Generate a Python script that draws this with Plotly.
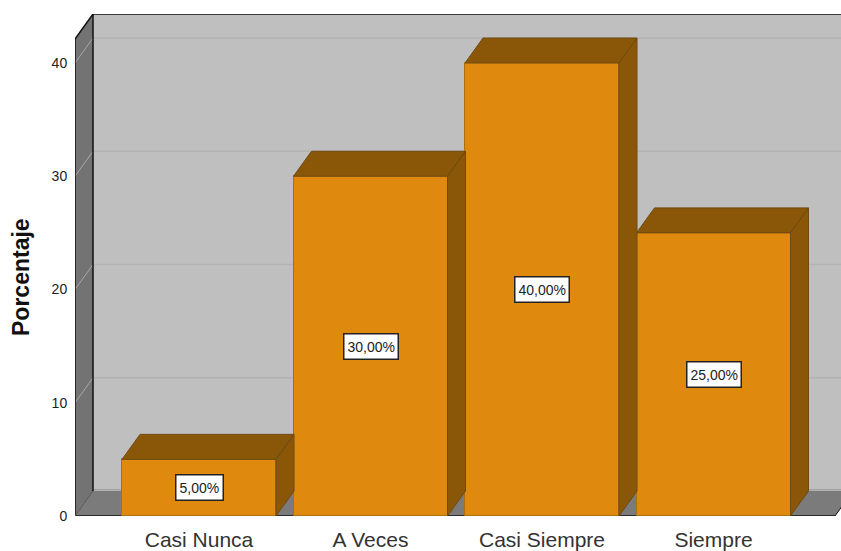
import plotly.graph_objects as go

categories = ["Casi Nunca", "A Veces", "Casi Siempre", "Siempre"]
values = [5, 30, 40, 25]
value_labels = ["5,00%", "30,00%", "40,00%", "25,00%"]
y_ticks = [0, 10, 20, 30, 40]

FRONT = "#E0890F"
DARK = "#8A5708"
EDGE = "#6E4A12"
WALL = "#BFBFBF"
SIDE = "#737373"
FLOOR = "#7B7B7B"
TEXT = "#222222"
SANS = "Liberation Sans, Arial, sans-serif"

W, H = 841, 551
L, R, T, B = 75, 0, 14, 35
PX_X, X0 = 171.5, 199
PX_Y = 11.325
Y0 = 516
DX = 18 / PX_X
DY = 25 / PX_Y
BAR_W = 154 / PX_X

x_rng = [(L - X0) / PX_X, (W - R - X0) / PX_X]
y_rng = [0, (Y0 - T) / PX_Y]
wl = x_rng[0]
wr = (835 - X0) / PX_X
ytop = y_rng[1] - DY


def poly(pts, fill, line=None, width=0):
    path = "M " + " L ".join(f"{x},{y}" for x, y in pts) + " Z"
    return dict(type="path", path=path, xref="x", yref="y", layer="below",
                fillcolor=fill, line=dict(color=line or fill, width=width))


def seg(x1, y1, x2, y2, color, width):
    return dict(type="line", x0=x1, y0=y1, x1=x2, y1=y2, xref="x", yref="y",
                layer="below", line=dict(color=color, width=width))


shapes = [
    poly([(wl + DX, DY), (x_rng[1] + 1, DY), (x_rng[1] + 1, ytop + DY), (wl + DX, ytop + DY)], WALL),
    poly([(wl, 0), (wl + DX, DY), (wl + DX, ytop + DY), (wl, ytop)], SIDE),
    poly([(wl, 0), (wr, 0), (wr + DX, DY), (x_rng[1] + 1, DY), (x_rng[1] + 1, 0), (wr, 0)], "white"),
    poly([(wl, 0), (wr, 0), (wr + DX, DY), (wl + DX, DY)], FLOOR),
    seg(wl + DX, DY + 0.1, x_rng[1] + 1, DY + 0.1, "#A3A3A3", 1.5),
]
for t in y_ticks[1:]:
    shapes.append(seg(wl, t, wl + DX, t + DY, "#A8A8A8", 1))
    shapes.append(seg(wl + DX, t + DY, x_rng[1] + 1, t + DY, "#B3B3B3", 1.5))
shapes += [
    seg(wl, 0, wl, ytop, "#111111", 1.5),
    seg(wl, ytop, wl + DX, ytop + DY, "#111111", 1.5),
    seg(wl + DX, ytop + DY, x_rng[1] + 1, ytop + DY, "#111111", 1.5),
    seg(wl + DX, DY, wl + DX, ytop + DY, "#111111", 1.5),
    seg(wl, 0, wr, 0, "#111111", 1.5),
    seg(wl, 0, wl + DX, DY, "#555555", 1),
    seg(wr, 0, wr + DX, DY, "#111111", 1),
]

fig = go.Figure()
xs = list(range(len(categories)))
fig.add_trace(go.Bar(x=xs, y=values, width=BAR_W, marker=dict(color=FRONT, line=dict(color="#A9700F", width=1)),
                     hoverinfo="skip", showlegend=False))
for i, v in zip(xs, values):
    a, b = i - BAR_W / 2, i + BAR_W / 2
    fig.add_trace(go.Scatter(x=[a, b, b + DX, a + DX, a], y=[v, v, v + DY, v + DY, v], mode="lines",
                             fill="toself", fillcolor=DARK, line=dict(color=EDGE, width=1),
                             hoverinfo="skip", showlegend=False))
    fig.add_trace(go.Scatter(x=[b, b + DX, b + DX, b, b], y=[0, DY, v + DY, v, 0], mode="lines",
                             fill="toself", fillcolor=DARK, line=dict(color=EDGE, width=1),
                             hoverinfo="skip", showlegend=False))

annotations = [
    dict(x=i, y=v / 2, xref="x", yref="y", text=lab, showarrow=False,
         font=dict(family=SANS, size=14, color=TEXT), bgcolor="#FFFFFF",
         bordercolor="#222222", borderwidth=1.5, borderpad=3, height=18)
    for i, v, lab in zip(xs, values, value_labels)
]
plot_w, plot_h = W - L - R, H - T - B
annotations.append(dict(x=(21 - L) / plot_w, y=(Y0 - 277) / plot_h, xref="paper", yref="paper",
                        yanchor="middle", xanchor="center", text="<b>Porcentaje</b>", textangle=-90,
                        showarrow=False, font=dict(family=SANS, size=23, color="#111111")))

fig.update_layout(
    width=W, height=H, autosize=False,
    margin=dict(l=L, r=R, t=T, b=B, pad=0),
    paper_bgcolor="white", plot_bgcolor="white",
    shapes=shapes, annotations=annotations,
    xaxis=dict(range=x_rng, automargin=False, tickmode="array", tickvals=xs, ticktext=categories, showgrid=False,
               zeroline=False, showline=False, ticks="outside", ticklen=5, tickcolor="rgba(0,0,0,0)",
               tickfont=dict(family=SANS, size=21, color="#333333")),
    yaxis=dict(range=y_rng, automargin=False, tickmode="array", tickvals=y_ticks, ticktext=[str(t) for t in y_ticks],
               showgrid=False, zeroline=False, showline=False, ticks="outside", ticklen=4,
               tickcolor="rgba(0,0,0,0)", tickfont=dict(family=SANS, size=14, color="#222222")),
    showlegend=False, bargap=0,
)
fig.write_html("out.html", config=dict(displayModeBar=False),
               post_script="document.body.style.margin='0';document.documentElement.style.overflow='hidden';")
